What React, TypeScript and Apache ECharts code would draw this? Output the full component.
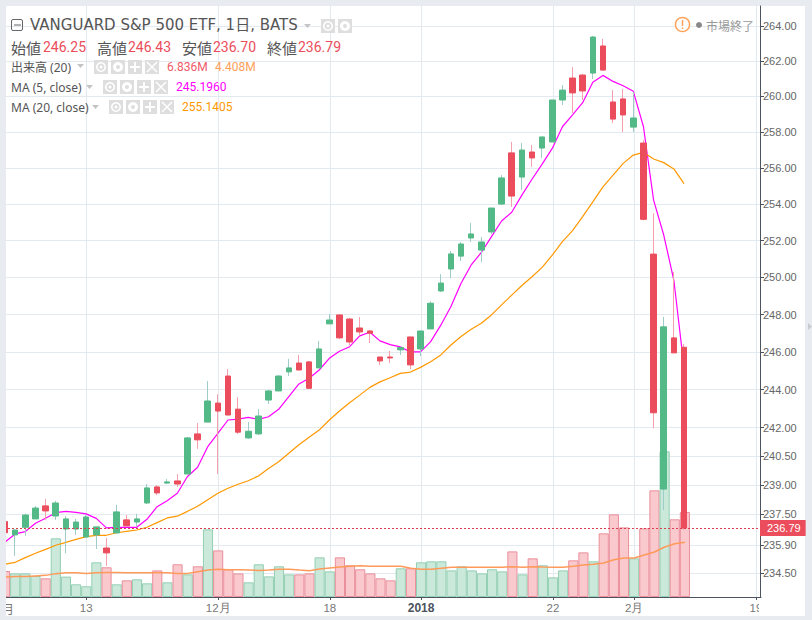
import React, { useEffect, useRef } from "react";
import * as echarts from "echarts";

const opens = [237.12,236.44,236.83,237.26,237.93,237.41,236.74,236.74,236.33,236.44,235.77,236.54,237.21,237.10,238.08,238.91,239.11,239.22,239.58,241.67,242.29,243.29,244.72,242.97,241.46,241.67,243.45,243.93,244.94,245.41,245.47,245.15,247.50,247.98,247.76,247.28,247.12,245.73,245.73,246.11,246.80,246.16,247.23,249.27,250.46,251.16,252.15,251.49,252.48,254.01,256.84,255.50,256.89,257.11,257.45,259.80,261.04,261.21,261.32,262.86,259.69,259.86,258.28,257.39,251.27,238.80,246.75,246.25];
const closes = [236.55,236.69,237.46,237.82,237.67,238.08,237.26,237.10,237.36,236.85,235.52,237.62,236.90,237.26,238.86,238.60,239.17,239.06,241.46,241.36,243.40,242.87,242.66,241.76,241.81,242.61,243.93,244.72,245.15,245.04,244.07,246.16,247.71,246.75,246.53,247.07,247.00,245.52,245.68,246.23,245.31,247.12,248.61,249.70,251.28,251.82,252.37,251.93,253.79,255.45,254.45,257.00,256.56,257.73,259.80,260.36,260.20,260.31,263.37,261.49,258.73,258.96,258.79,253.17,242.78,247.34,245.95,236.79];
const lows = [236.40,235.37,236.40,237.26,237.21,237.21,235.51,236.44,236.33,235.72,234.85,236.54,236.90,236.85,238.03,238.49,239.06,238.91,239.58,240.89,242.29,239.58,242.66,241.67,241.41,241.62,243.24,243.93,244.72,245.04,244.02,245.15,247.50,246.70,246.37,246.86,246.48,245.31,245.41,245.84,245.09,245.78,247.23,249.22,249.97,250.89,251.93,250.83,252.37,253.96,253.85,254.78,256.06,256.56,257.45,259.52,259.07,259.80,260.98,261.49,258.51,258.00,258.00,253.12,241.97,237.72,245.95,236.70];
const highs = [237.30,236.72,237.53,237.93,238.29,238.19,237.41,237.26,237.46,236.85,236.28,237.98,237.46,237.52,239.06,239.01,239.32,239.58,241.51,242.24,244.45,243.76,245.09,243.60,242.29,242.97,243.98,244.77,245.63,245.84,245.52,246.59,248.03,247.98,247.82,247.87,247.18,245.73,246.05,246.27,246.80,247.12,248.72,250.18,251.44,251.93,252.97,252.20,253.79,255.61,257.45,257.39,257.28,257.73,259.80,260.64,261.66,261.27,263.43,263.26,260.36,260.42,260.25,257.56,253.50,247.87,250.30,246.43];
const ma5 = [236.08,236.49,236.61,237.04,237.29,237.58,237.65,237.60,237.52,237.29,236.80,236.83,236.83,236.83,237.24,237.89,238.20,238.58,239.45,239.93,241.00,241.70,242.40,242.45,242.54,242.43,242.57,242.96,243.63,244.30,244.60,245.04,245.66,246.04,246.28,246.86,247.05,246.59,246.39,246.27,246.00,246.00,246.55,247.43,248.43,249.69,250.68,251.36,252.22,253.08,253.56,254.50,255.38,256.22,257.09,258.30,258.96,259.65,260.80,261.19,260.85,260.60,260.29,258.30,254.23,252.31,249.85,245.196];
const ma20 = [234.95,235.04,235.28,235.50,235.70,235.91,236.06,236.21,236.35,236.42,236.42,236.55,236.62,236.69,236.83,237.07,237.31,237.40,237.65,237.91,238.25,238.58,238.84,239.05,239.23,239.48,239.87,240.22,240.66,241.10,241.49,241.87,242.40,242.87,243.31,243.71,244.12,244.41,244.63,244.86,244.93,245.18,245.48,245.84,246.37,246.82,247.21,247.53,247.98,248.52,249.05,249.57,250.04,250.55,251.22,251.95,252.55,253.32,254.13,254.96,255.61,256.26,256.72,256.87,256.50,256.30,255.95,255.14];
const volumes = [2.09,1.90,1.90,1.69,1.50,4.72,1.64,1.02,0.86,2.79,2.39,1.02,1.34,1.42,1.10,2.14,1.18,2.63,1.82,2.47,5.44,3.75,2.23,1.90,1.18,2.63,1.66,2.47,1.82,1.82,1.90,3.19,2.06,3.19,2.55,2.23,1.90,1.50,1.34,2.31,2.31,2.79,2.87,2.87,2.14,2.47,2.14,1.90,2.23,2.06,3.67,1.82,3.11,2.55,1.58,2.14,2.95,3.59,2.87,5.12,6.65,5.60,3.11,5.52,8.58,11.72,6.25,6.836];
const volMa = [1.61,1.64,1.64,1.69,1.74,1.88,1.96,1.96,1.90,1.96,1.98,1.98,1.96,1.96,1.96,1.96,1.96,1.90,1.90,2.04,2.17,2.23,2.20,2.20,2.17,2.14,2.17,2.23,2.23,2.17,2.12,2.25,2.33,2.41,2.47,2.52,2.47,2.47,2.47,2.47,2.31,2.23,2.23,2.31,2.39,2.39,2.39,2.39,2.39,2.39,2.44,2.39,2.44,2.41,2.39,2.39,2.47,2.57,2.63,2.73,3.00,3.14,3.14,3.38,3.62,4.02,4.29,4.408];
const priceTicks = [234.5,235.9,237.5,239,240.5,242,244,246,248,250,252,254,256,258,260,262,264];
const lastClose = 236.79;
const dateTicks: Record<number, string> = { 8: "13", 21: "12月", 32: "18", 41: "2018", 54: "22", 62: "2月", 74: "19" };
const categories = Array.from({ length: 75 }, (_, i) => dateTicks[i] ?? "d" + i);

const UP = "#53b987";
const DOWN = "#eb4d5c";
const UI = '"DejaVu Sans","Noto Sans CJK JP",sans-serif';
const UI2 = '"Noto Sans","Noto Sans CJK JP",sans-serif';
const CJK = '"Noto Sans CJK JP",sans-serif';

function text(t: string, x: number, y: number, size: number, fill: string, family = UI2, align = "left") {
  return { type: "text", z: 100, x, y, silent: true, style: { text: t, fill, fontSize: size, fontFamily: family, align, verticalAlign: "middle" } };
}
function caret(x: number, y: number) {
  return { type: "polygon", z: 100, silent: true, shape: { points: [[x, y - 2], [x + 7, y - 2], [x + 3.5, y + 2]] }, style: { fill: "#c4c4c4" } };
}
function iconBase(x: number, y: number) {
  return { type: "rect", z: 100, silent: true, shape: { x, y, width: 14, height: 14 }, style: { fill: "#dedede" } };
}
function eye(x: number, y: number) {
  return [iconBase(x, y),
    { type: "ring", z: 101, silent: true, shape: { cx: x + 7, cy: y + 7, r: 5, r0: 3.5 }, style: { fill: "#fff" } },
    { type: "circle", z: 101, silent: true, shape: { cx: x + 7, cy: y + 7, r: 1.5 }, style: { fill: "#fff" } }];
}
function gear(x: number, y: number) {
  return [iconBase(x, y),
    { type: "ring", z: 101, silent: true, shape: { cx: x + 7, cy: y + 7, r: 5, r0: 2 }, style: { fill: "#fff" } }];
}
function seg(x1: number, y1: number, x2: number, y2: number, w: number, c = "#fff") {
  return { type: "line", z: 101, silent: true, shape: { x1, y1, x2, y2 }, style: { stroke: c, lineWidth: w } };
}
function plus(x: number, y: number) {
  return [iconBase(x, y), seg(x + 2, y + 7, x + 12, y + 7, 2), seg(x + 7, y + 2, x + 7, y + 12, 2)];
}
function cross(x: number, y: number) {
  return [iconBase(x, y), seg(x + 2, y + 2, x + 12, y + 12, 1.5), seg(x + 12, y + 2, x + 2, y + 12, 1.5)];
}
function iconRow(x: number, y: number) {
  return [...eye(x, y), ...gear(x + 17, y), ...plus(x + 34, y), ...cross(x + 51, y)];
}

const overlay: any[] = [
  { type: "rect", z: 99, silent: true, shape: { x: 0, y: 0, width: 6, height: 620 }, style: { fill: "#e8ecf0" } },
  { type: "rect", z: 99, silent: true, shape: { x: 759, y: 598, width: 46, height: 18 }, style: { fill: "#fff" } },
  text("月", 2, 608, 12, "#777", CJK),
  { type: "rect", z: 100, silent: true, shape: { x: 0, y: 598, width: 6, height: 22 }, style: { fill: "#e8ecf0" } },
  { type: "rect", z: 100, silent: true, shape: { x: 11.5, y: 19.5, width: 11, height: 11, r: 1.5 }, style: { fill: "none", stroke: "#666", lineWidth: 1 } },
  seg(14, 25, 21, 25, 1, "#666"),
  text("VANGUARD S&P 500 ETF, 1日, BATS", 30, 25, 15, "#555", UI),
  caret(304, 26),
  ...eye(321, 19),
  ...gear(338, 19),
  text("始値", 11, 47, 15, "#555", CJK),
  text("246.25", 43, 47, 14, DOWN, "Roboto"),
  text("高値", 97, 47, 15, "#555", CJK),
  text("246.43", 128, 47, 14, DOWN, "Roboto"),
  text("安値", 182, 47, 15, "#555", CJK),
  text("236.70", 213, 47, 14, DOWN, "Roboto"),
  text("終値", 267, 47, 15, "#555", CJK),
  text("236.79", 298, 47, 14, DOWN, "Roboto"),
  text("出来高 (20)", 11, 67, 12, "#555"),
  caret(77, 66),
  ...iconRow(94, 60),
  text("6.836M", 167, 67, 12, "#ef5a68", "Roboto"),
  text("4.408M", 215, 67, 12, "#ff9f5a", "Roboto"),
  text("MA (5, close)", 11, 87, 12, "#555"),
  caret(86, 87),
  ...iconRow(103, 80),
  text("245.1960", 176, 87, 12, "#ff00ff", "Roboto"),
  text("MA (20, close)", 11, 107, 12, "#555"),
  caret(92, 107),
  ...iconRow(109, 100),
  text("255.1405", 182, 107, 12, "#ff9800", "Roboto"),
  { type: "circle", z: 100, silent: true, shape: { cx: 682.5, cy: 24.5, r: 7 }, style: { fill: "#fff", stroke: "#ffa25c", lineWidth: 1.5 } },
  seg(682.5, 20, 682.5, 26, 1.5, "#ffa25c"),
  seg(682.5, 27.5, 682.5, 29, 1.5, "#ffa25c"),
  { type: "circle", z: 100, silent: true, shape: { cx: 699, cy: 25, r: 3 }, style: { fill: "#888" } },
  text("市場終了", 706, 25, 12, "#999", CJK),
  { type: "polygon", z: 100, silent: true, shape: { points: [[808, 323], [812, 326.5], [808, 330]] }, style: { fill: "#c8ccd0" } },
];

export default function App() {
  const ref = useRef<HTMLDivElement>(null);
  useEffect(() => {
    if (!ref.current) return;
    const chart = echarts.init(ref.current, undefined, { renderer: "svg" });
    const grid = "#e3eaef";
    const isTick = (i: number) => dateTicks[i] !== undefined;
    chart.setOption({
      animation: false,
      graphic: overlay,
      grid: [
        { left: -1, top: 6, width: 761, height: 591 },
        { left: 0, top: 6, width: 761, height: 591 },
      ],
      xAxis: [
        { type: "category", gridIndex: 0, data: categories, show: false, boundaryGap: true },
        {
          type: "category", gridIndex: 1, data: categories, boundaryGap: true,
          axisLine: { lineStyle: { color: "#4c525e", width: 1 } },
          axisTick: { show: true, alignWithLabel: true, length: 3, interval: isTick, lineStyle: { color: "#4c525e" } },
          splitLine: { show: true, alignWithLabel: true, interval: isTick, lineStyle: { color: grid, width: 1 } },
          axisLabel: {
            interval: isTick, margin: 5, color: "#777", fontSize: 11.5, fontFamily: "Liberation Sans",
            formatter: (v: string) => (v === "2018" ? "{b|2018}" : v),
            rich: { b: { fontWeight: "bold", color: "#4c525e", fontSize: 12, fontFamily: "Liberation Sans" } },
          },
        },
      ],
      yAxis: [
        {
          type: "log", gridIndex: 0, position: "right", min: 233.28, max: 265.146, logBase: 10,
          axisLine: { show: true, lineStyle: { color: "#4c525e", width: 1 } },
          axisTick: { show: true, length: 4, customValues: priceTicks, lineStyle: { color: "#4c525e" } },
          axisLabel: { customValues: priceTicks, margin: 3, color: "#666", fontSize: 11, fontFamily: "Liberation Sans", formatter: (v: number) => Number(v).toFixed(2) },
          splitLine: { show: true, customValues: priceTicks, lineStyle: { color: grid, width: 1 } },
        },
        { type: "value", gridIndex: 1, min: 0, max: 47.55, show: false, splitLine: { show: false } },
      ],
      series: [
        {
          type: "bar", name: "出来高", xAxisIndex: 1, yAxisIndex: 1, barCategoryGap: 0, z: 1, silent: true,
          data: volumes.map((v, i) => ({
            value: v,
            itemStyle: closes[i] >= opens[i]
              ? { color: "#cae9db", borderColor: "#93cfb2", borderWidth: 1 }
              : { color: "#f9c9ce", borderColor: "#ea8f9b", borderWidth: 1 },
          })),
        },
        { type: "line", name: "出来高MA", xAxisIndex: 1, yAxisIndex: 1, data: volMa, showSymbol: false, z: 2, silent: true, lineStyle: { color: "#ff9a5a", width: 1.5 } },
        { type: "line", name: "MA5", xAxisIndex: 0, yAxisIndex: 0, data: ma5, showSymbol: false, z: 2, silent: true, lineStyle: { color: "#ff00ff", width: 1.2 } },
        { type: "line", name: "MA20", xAxisIndex: 0, yAxisIndex: 0, data: ma20, showSymbol: false, z: 2, silent: true, lineStyle: { color: "#ff9800", width: 1.2 } },
        {
          type: "candlestick", name: "wick", xAxisIndex: 0, yAxisIndex: 0, barWidth: 1, z: 3, silent: true,
          data: opens.map((o, i) => [o, closes[i], lows[i], highs[i]]),
          itemStyle: { color: "#9fcbc8", color0: "#f5a0ac", borderColor: "#9fcbc8", borderColor0: "#f5a0ac", borderWidth: 1 },
        },
        {
          type: "candlestick", name: "body", xAxisIndex: 0, yAxisIndex: 0, barWidth: 6, z: 4, silent: true,
          data: opens.map((o, i) => [o, closes[i], Math.min(o, closes[i]), Math.max(o, closes[i])]),
          itemStyle: { color: UP, color0: DOWN, borderColor: UP, borderColor0: DOWN, borderWidth: 1 },
          markLine: {
            silent: true, symbol: "none", animation: false, z: 5,
            lineStyle: { color: "#d9404f", type: [2, 2], width: 1 },
            label: {
              show: true, position: "end", distance: 0, formatter: () => lastClose.toFixed(2),
              backgroundColor: DOWN, color: "#fff", fontSize: 11, fontFamily: "Liberation Sans", lineHeight: 12,
              padding: [2, 5, 2, 7],
            },
            data: [{ yAxis: lastClose }],
          },
        },
      ],
    });
    return () => chart.dispose();
  }, []);
  return (
    <div style={{ position: "absolute", left: 0, top: 0, width: 812, height: 620, background: "#e8ecf0", overflow: "hidden" }}>
      <div style={{ position: "absolute", left: 6, top: 6, width: 799, height: 610, background: "#fff" }} />
      <div ref={ref} style={{ position: "absolute", left: 0, top: 0, width: 812, height: 620 }} />
    </div>
  );
}
